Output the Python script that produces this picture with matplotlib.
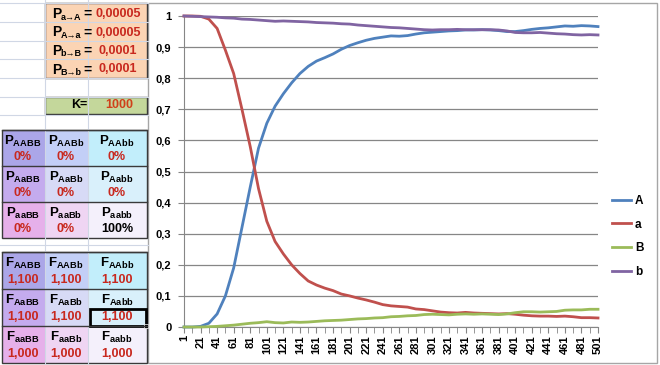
import matplotlib.pyplot as plt
from matplotlib.patches import Rectangle

plt.rcParams['font.family'] = ['Liberation Sans', 'DejaVu Sans']
plt.rcParams['mathtext.fontset'] = 'custom'
plt.rcParams['mathtext.rm'] = 'Liberation Sans'
plt.rcParams['mathtext.bf'] = 'Liberation Sans:bold'

# allele frequencies, every 10 generations
generation = list(range(1, 502, 10))
freq_A = [0.0, 0.0, 0.002, 0.012, 0.042, 0.10, 0.19, 0.32, 0.45, 0.575, 0.655,
          0.71, 0.75, 0.785, 0.815, 0.838, 0.855, 0.866, 0.878, 0.893, 0.905,
          0.914, 0.922, 0.928, 0.932, 0.936, 0.935, 0.937, 0.942, 0.946, 0.948,
          0.950, 0.952, 0.953, 0.955, 0.955, 0.956, 0.955, 0.953, 0.950, 0.950,
          0.953, 0.957, 0.960, 0.962, 0.965, 0.968, 0.967, 0.969, 0.968, 0.966]
freq_a = [1.0, 1.0, 0.999, 0.99, 0.96, 0.89, 0.815, 0.70, 0.58, 0.445, 0.34,
          0.275, 0.235, 0.20, 0.172, 0.148, 0.135, 0.125, 0.117, 0.106, 0.100,
          0.093, 0.087, 0.080, 0.072, 0.068, 0.066, 0.064, 0.058, 0.056, 0.052,
          0.048, 0.046, 0.045, 0.047, 0.045, 0.044, 0.043, 0.042, 0.043, 0.041,
          0.038, 0.036, 0.035, 0.035, 0.034, 0.035, 0.033, 0.030, 0.030, 0.029]
freq_B = [0.0, 0.0, 0.0, 0.001, 0.002, 0.004, 0.006, 0.009, 0.012, 0.014, 0.017,
          0.014, 0.013, 0.016, 0.015, 0.016, 0.018, 0.020, 0.021, 0.022, 0.024,
          0.026, 0.027, 0.029, 0.030, 0.033, 0.034, 0.036, 0.037, 0.040, 0.041,
          0.040, 0.039, 0.041, 0.042, 0.041, 0.042, 0.041, 0.040, 0.042, 0.046,
          0.049, 0.049, 0.048, 0.049, 0.050, 0.054, 0.055, 0.055, 0.057, 0.057]
freq_b = [1.0, 0.999, 0.998, 0.997, 0.996, 0.994, 0.993, 0.990, 0.989, 0.987, 0.985,
          0.983, 0.984, 0.983, 0.982, 0.981, 0.979, 0.978, 0.977, 0.975, 0.974,
          0.971, 0.969, 0.967, 0.965, 0.963, 0.962, 0.960, 0.958, 0.956, 0.955,
          0.956, 0.956, 0.957, 0.956, 0.956, 0.956, 0.956, 0.955, 0.952, 0.947,
          0.946, 0.946, 0.947, 0.945, 0.943, 0.942, 0.940, 0.939, 0.940, 0.939]
series_names = ['A', 'a', 'B', 'b']
series_colors = ['#4F81BD', '#C0504D', '#9BBB59', '#8064A2']

y_ticks = [0, 0.1, 0.2, 0.3, 0.4, 0.5, 0.6, 0.7, 0.8, 0.9, 1]
y_tick_labels = ['0', '0,1', '0,2', '0,3', '0,4', '0,5', '0,6', '0,7', '0,8', '0,9', '1']

# spreadsheet cells on the left
mutation_subs = ['a→A', 'A→a', 'b→B', 'B→b']
mutation_values = ['0,00005', '0,00005', '0,0001', '0,0001']
k_value = '1000'
genotypes = [['AABB', 'AABb', 'AAbb'], ['AaBB', 'AaBb', 'Aabb'], ['aaBB', 'aaBb', 'aabb']]
genotype_share = [['0%', '0%', '0%'], ['0%', '0%', '0%'], ['0%', '0%', '100%']]
genotype_fitness = [['1,100', '1,100', '1,100'], ['1,100', '1,100', '1,100'],
                    ['1,000', '1,000', '1,000']]
cell_colors = [['#ABA6E8', '#C3CFF7', '#C2EEFB'],
               ['#C4ABEE', '#D7DAF6', '#D9F0FB'],
               ['#E6B0EA', '#EFD5F3', '#F4F0FB']]

W, H = 660, 365
fig = plt.figure(figsize=(W / 100, H / 100), dpi=100)

bg = fig.add_axes([0, 0, 1, 1])
bg.set_xlim(0, W)
bg.set_ylim(H, 0)
bg.axis('off')

red = '#C8281E'
grid_light = '#D0D7E5'
border = '#3A3A3A'

# worksheet grid
for x in [45, 88]:
    bg.plot([x, x], [0, H], color=grid_light, lw=0.8)
for y in [3, 22, 41, 59, 78, 97, 115, 245]:
    bg.plot([0, 148], [y, y], color=grid_light, lw=0.8)

# chart frame
bg.add_patch(Rectangle((148, 3), 509, 360, facecolor='white', edgecolor='#A6A6A6', lw=1))

# mutation rates box
bg.add_patch(Rectangle((45, 3), 102, 75, facecolor='#FBD4B4', edgecolor=border, lw=1))
for i, (sub, val) in enumerate(zip(mutation_subs, mutation_values)):
    y = 14 + i * 18.5
    bg.text(52, y, 'P', ha='left', va='center', fontsize=10, weight='bold')
    bg.text(60.5, y + 3, sub, ha='left', va='center', fontsize=6.5, weight='bold')
    bg.text(83.5, y, '=', ha='left', va='center', fontsize=10, weight='bold')
    bg.text(118, y, val, ha='center', va='center', fontsize=9, weight='bold', color=red)

# K box
bg.add_patch(Rectangle((45, 97), 102, 17, facecolor='#C4D79B', edgecolor=border, lw=1))
bg.text(79, 105.5, 'K=', ha='center', va='center', fontsize=9, weight='bold')
bg.text(119, 105.5, k_value, ha='center', va='center', fontsize=9, weight='bold', color='#D0401A')

col_edges = [2, 45, 88, 147]
col_centers = [23, 66, 117]


def genotype_table(top, row_h, letter, values):
    for r in range(3):
        y0 = top + r * row_h
        for c in range(3):
            bg.add_patch(Rectangle((col_edges[c], y0), col_edges[c + 1] - col_edges[c], row_h,
                                   facecolor=cell_colors[r][c], edgecolor='none'))
            bg.text(col_centers[c], y0 + row_h * 0.32, r'$\mathbf{%s_{%s}}$' % (letter, genotypes[r][c]),
                    ha='center', va='center', fontsize=9.5)
            v = values[r][c]
            bg.text(col_centers[c], y0 + row_h * 0.75, v, ha='center', va='center', fontsize=9,
                    weight='bold', color='black' if v == '100%' else red)
        bg.plot([col_edges[0], col_edges[-1]], [y0, y0], color=border, lw=1)
    bg.add_patch(Rectangle((col_edges[0], top), col_edges[-1] - col_edges[0], 3 * row_h,
                           facecolor='none', edgecolor=border, lw=1))


genotype_table(130, 36, 'P', genotype_share)
genotype_table(252, 37, 'F', genotype_fitness)

# selected cell
bg.add_patch(Rectangle((90, 309), 56, 17, facecolor='none', edgecolor='black', lw=2))
bg.add_patch(Rectangle((144, 324), 4, 4, facecolor='black', edgecolor='white', lw=0.5))

# chart
ax = fig.add_axes([184 / W, 1 - 327 / H, (598 - 184) / W, (327 - 16) / H])
ax.set_facecolor('none')
for vals, name, col in zip([freq_A, freq_a, freq_B, freq_b], series_names, series_colors):
    ax.plot(generation, vals, color=col, lw=2, label=name, clip_on=False, zorder=3)

ax.set_xlim(1, 501)
ax.set_ylim(0, 1)
ax.set_yticks(y_ticks)
ax.set_yticklabels(y_tick_labels)
ax.set_xticks(list(range(1, 502, 20)))
ax.set_xticks(list(range(11, 502, 20)), minor=True)
ax.tick_params(axis='x', which='major', rotation=90, length=4, pad=2, color='#868686')
ax.tick_params(axis='x', which='minor', length=4, color='#868686')
ax.tick_params(axis='y', length=4, pad=5, color='#868686')
for lbl in ax.get_xticklabels() + ax.get_yticklabels():
    lbl.set_fontsize(8)
    lbl.set_fontweight('bold')
ax.grid(axis='y', color='#868686', lw=0.9)
ax.set_axisbelow(True)
for s in ['top', 'right']:
    ax.spines[s].set_visible(False)
for s in ['left', 'bottom']:
    ax.spines[s].set_color('#868686')

ax.legend(loc='center left', bbox_to_anchor=(612 / W, 1 - 236.5 / H), bbox_transform=fig.transFigure,
          frameon=False, handlelength=1.6, handletextpad=0.35, labelspacing=1.0,
          borderpad=0, borderaxespad=0, prop=dict(size=8.5, weight='bold'))

fig.savefig('out.png', dpi=100)
